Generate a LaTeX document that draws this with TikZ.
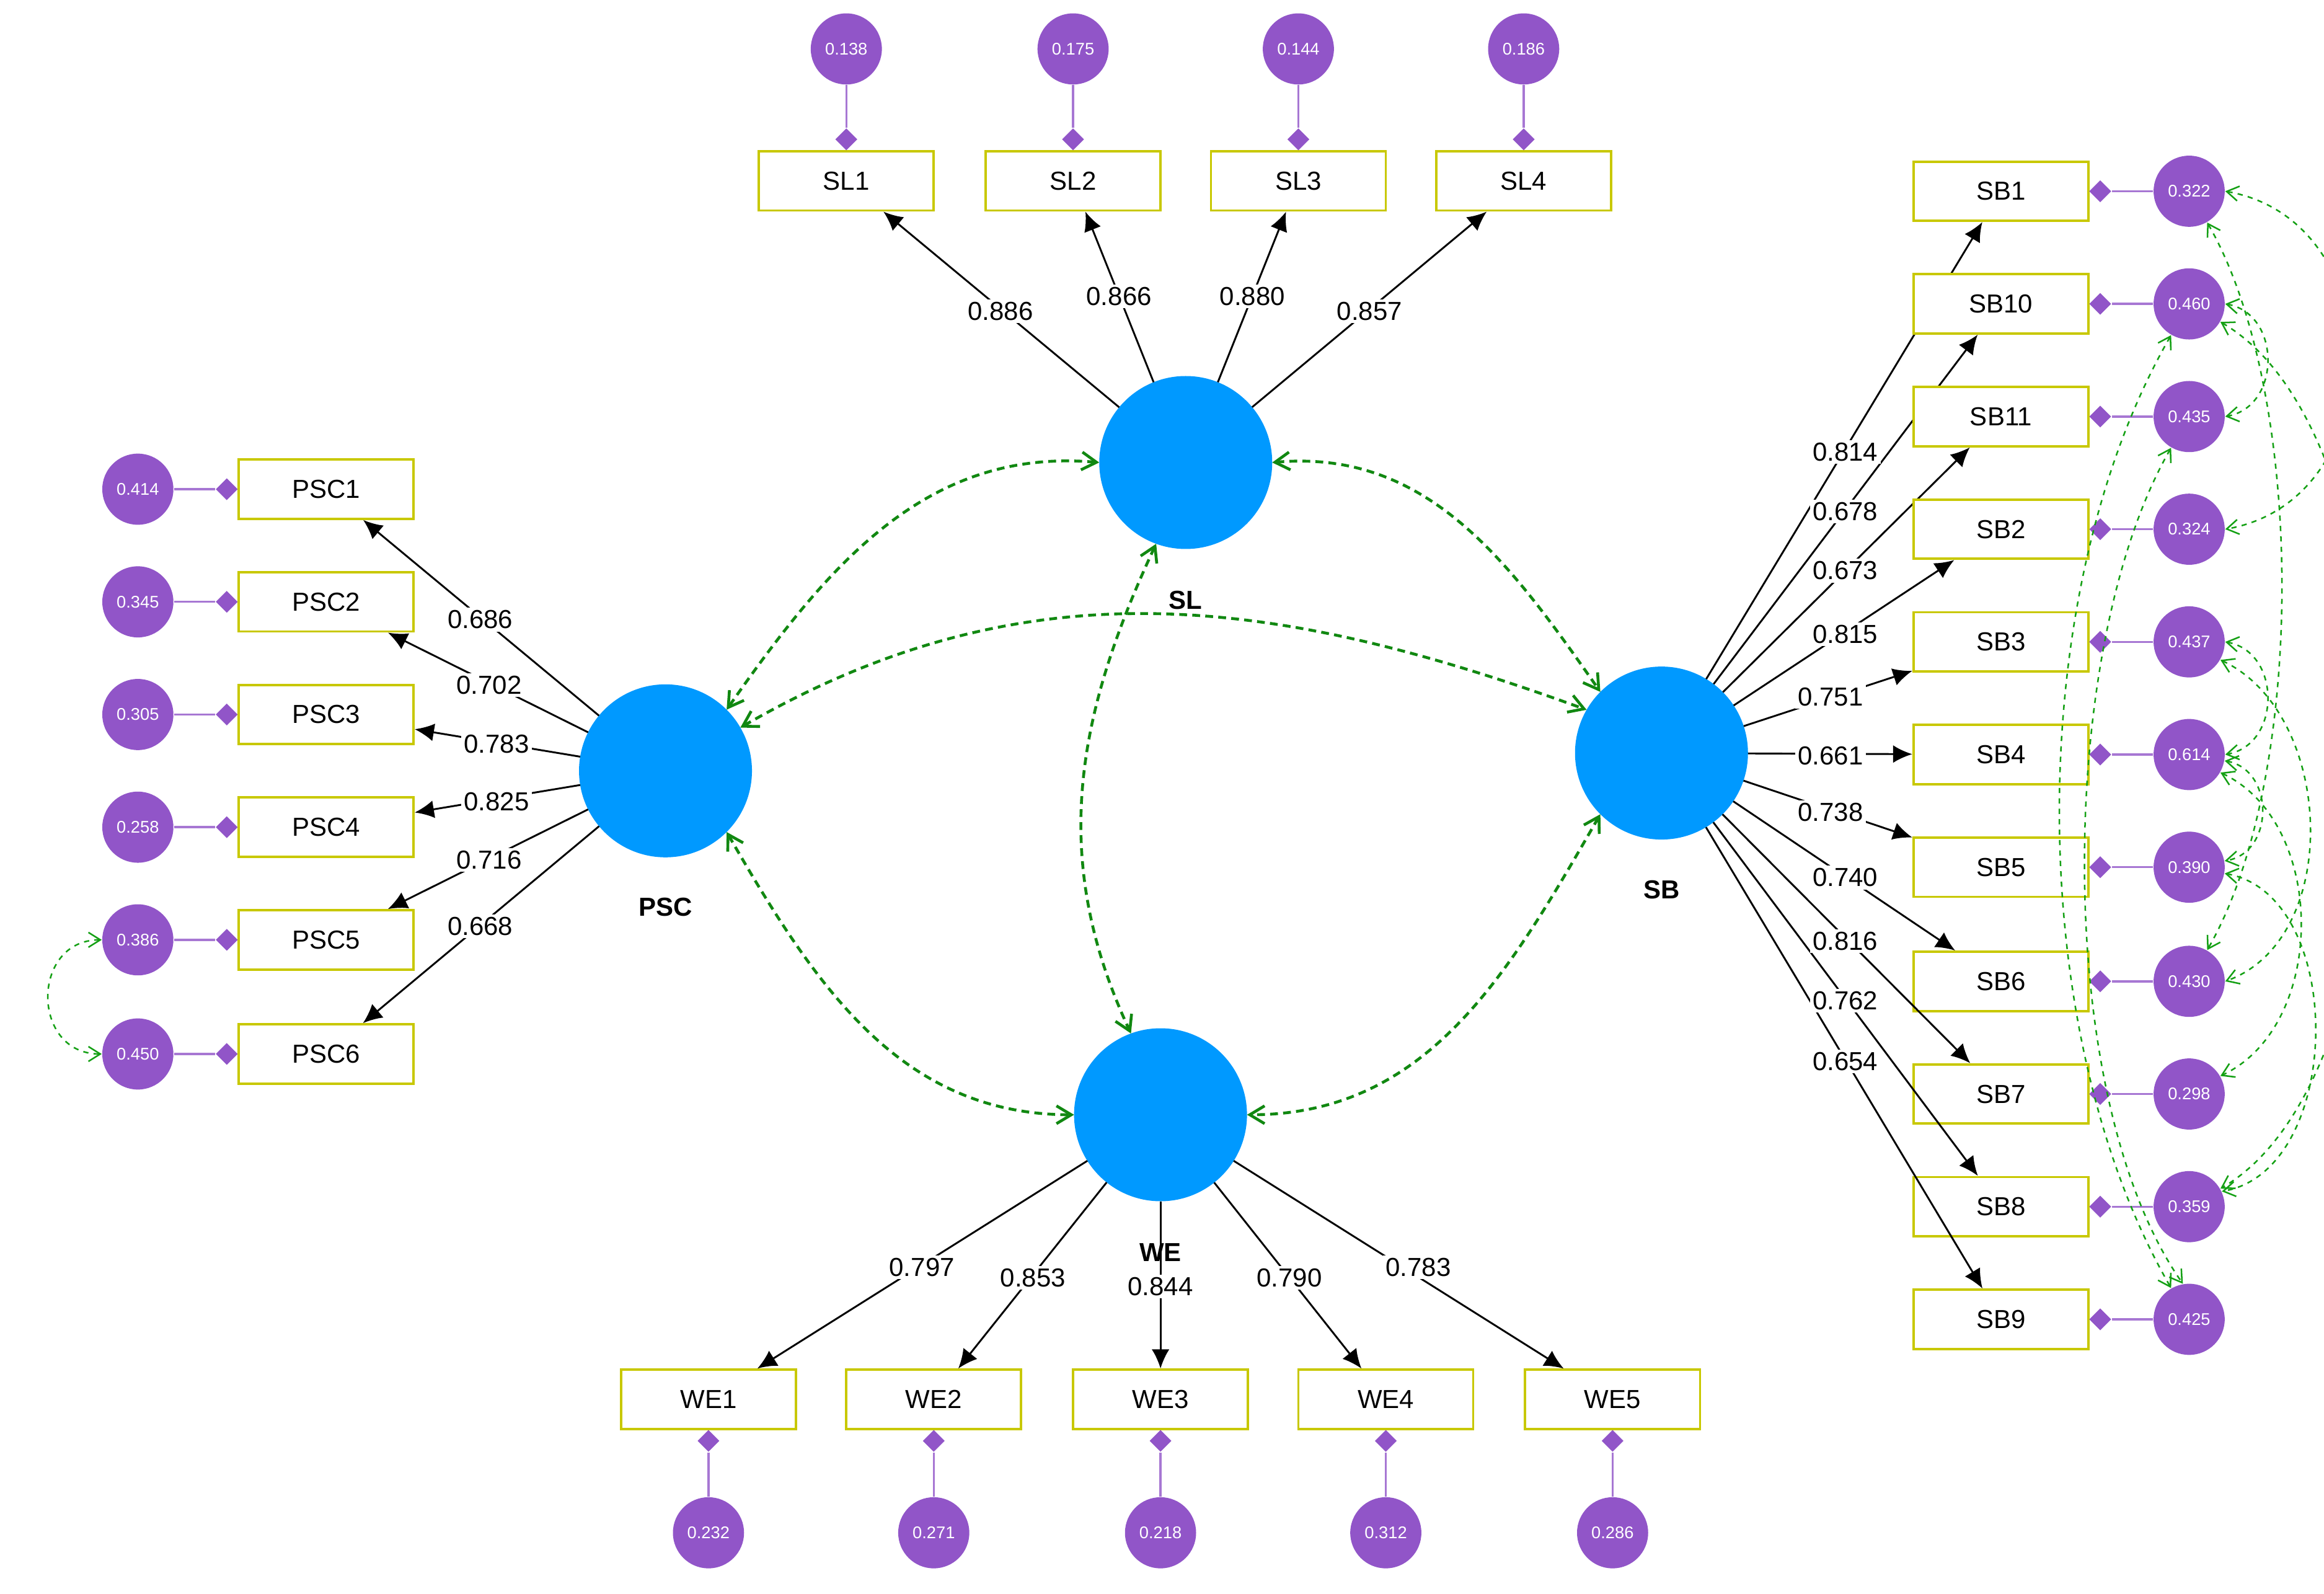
\documentclass[tikz,border=0pt]{standalone}
\usepackage{fontspec}
\setmainfont{Liberation Sans}
\usetikzlibrary{shapes.geometric,arrows.meta}
\definecolor{lat}{RGB}{0,153,255}
\definecolor{err}{RGB}{145,85,200}
\definecolor{box}{RGB}{200,200,0}
\definecolor{cov}{RGB}{20,160,20}
\begin{document}
\begin{tikzpicture}[x=0.02cm,y=-0.02cm,
 lv/.style={circle,fill=lat,draw=lat,minimum size=2.32cm,inner sep=0},
 lvl/.style={font=\fontsize{10}{12}\selectfont\bfseries},
 ind/.style={draw=box,line width=0.9pt,fill=white,minimum width=2.36cm,minimum height=0.8cm,inner sep=0,font=\fontsize{10}{12}\selectfont},
 er/.style={circle,fill=err,minimum size=0.96cm,inner sep=0,text=white,font=\fontsize{6.5}{8}\selectfont},
 dm/.style={diamond,fill=err,minimum size=0.3cm,inner sep=0},
 eline/.style={draw=err!80,line width=0.8pt},
 ld/.style={-{Latex[length=2.6mm,width=2.4mm]},line width=0.7pt},
 ll/.style={fill=white,inner sep=1pt,font=\fontsize{10}{12}\selectfont},
 cv/.style={{Straight Barb[length=2mm,width=2.4mm]}-{Straight Barb[length=2mm,width=2.4mm]},draw=cov!85!black,line width=1.1pt,dash pattern=on 3pt off 2pt},
 cs/.style={{Straight Barb[length=1.6mm,width=2mm]}-{Straight Barb[length=1.6mm,width=2mm]},draw=cov,line width=0.6pt,dash pattern=on 2pt off 2pt}]
\useasboundingbox (0,0) rectangle (1568,1075);
% latent
\node[lv] (SL) at (800,312) {};
\node[lv] (PSC) at (449,520) {};
\node[lv] (SB) at (1121,508) {};
\node[lv] (WE) at (783,752) {};
\node[lvl] (tSL) at (800,405) {SL};
\node[lvl] (tPSC) at (449,612) {PSC};
\node[lvl] (tSB) at (1121,600) {SB};
\node[lvl] (tWE) at (783,845) {WE};
% SL
\foreach \i/\x/\v/\l/\lx/\ly in {1/571/0.138/0.886/675/210,2/724/0.175/0.866/755/200,3/876/0.144/0.880/845/200,4/1028/0.186/0.857/924/210}{
 \node[ind] (SL\i) at (\x,122) {SL\i};
 \node[er] (eSL\i) at (\x,33) {\v};
 \node[dm] (dSL\i) at (\x,94) {};
 \draw[eline] (eSL\i) -- (dSL\i);
 \draw[ld] (SL) -- (SL\i);
 \node[ll] (lSL\i) at (\lx,\ly) {\l};
}
% PSC
\foreach \i/\y/\v/\l/\lx/\ly in {1/330/0.414/0.686/324/418,2/406/0.345/0.702/330/462,3/482/0.305/0.783/335/502,4/558/0.258/0.825/335/541,5/634/0.386/0.716/330/580,6/711/0.450/0.668/324/625}{
 \node[ind] (PSC\i) at (220,\y) {PSC\i};
 \node[er] (ePSC\i) at (93,\y) {\v};
 \node[dm] (dPSC\i) at (153,\y) {};
 \draw[eline] (ePSC\i) -- (dPSC\i);
 \draw[ld] (PSC) -- (PSC\i);
 \node[ll] (lPSC\i) at (\lx,\ly) {\l};
}
% SB
\foreach \n/\y/\v/\l/\lx/\ly in {1/129/0.322/0.814/1245/305,10/205/0.460/0.678/1245/345,11/281/0.435/0.673/1245/385,2/357/0.324/0.815/1245/428,3/433/0.437/0.751/1235/470,4/509/0.614/0.661/1235/510,5/585/0.390/0.738/1235/548,6/662/0.430/0.740/1245/592,7/738/0.298/0.816/1245/635,8/814/0.359/0.762/1245/675,9/890/0.425/0.654/1245/716}{
 \node[ind] (SB\n) at (1350,\y) {SB\n};
 \node[er] (eSB\n) at (1477,\y) {\v};
 \node[dm] (dSB\n) at (1417,\y) {};
 \draw[eline] (eSB\n) -- (dSB\n);
 \draw[ld] (SB) -- (SB\n);
}
\foreach \n/\l/\lx/\ly in {1/0.814/1245/305,10/0.678/1245/345,11/0.673/1245/385,2/0.815/1245/428,3/0.751/1235/470,4/0.661/1235/510,5/0.738/1235/548,6/0.740/1245/592,7/0.816/1245/635,8/0.762/1245/675,9/0.654/1245/716}{
 \node[ll] (lSB\n) at (\lx,\ly) {\l};
}
% WE
\foreach \i/\x/\v/\l/\lx/\ly in {1/478/0.232/0.797/622/855,2/630/0.271/0.853/697/862,3/783/0.218/0.844/783/868,4/935/0.312/0.790/870/862,5/1088/0.286/0.783/957/855}{
 \node[ind] (WE\i) at (\x,944) {WE\i};
 \node[er] (eWE\i) at (\x,1034) {\v};
 \node[dm] (dWE\i) at (\x,972) {};
 \draw[eline] (eWE\i) -- (dWE\i);
 \draw[ld] (WE) -- (WE\i);
 \node[ll] (lWE\i) at (\lx,\ly) {\l};
}
% latent covariances
\draw[cv] (SL.west) to[out=175,in=55] (PSC.north east);
\draw[cv] (SL.east) to[out=5,in=125] (SB.north west);
\draw[cv] (PSC.30) to[out=30,in=160] (SB.150);
\draw[cv] (SL.250) to[out=245,in=115] (WE.110);
\draw[cv] (PSC.south east) to[out=-60,in=180] (WE.west);
\draw[cv] (SB.south west) to[out=-120,in=0] (WE.east);
% error covariances
\draw[cs] (ePSC5.west) to[out=180,in=180,looseness=1.6] (ePSC6.west);
\draw[cs] (eSB1.east) to[out=-10,in=10,looseness=1.3] (eSB2.east);
\draw[cs] (eSB10.east) to[out=-10,in=10,looseness=1.3] (eSB11.east);
\draw[cs] (eSB1.-60) to[out=-60,in=60,looseness=0.7] (eSB6.60);
\draw[cs] (eSB10.-30) to[out=-30,in=30,looseness=0.7] (eSB8.30);
\draw[cs] (eSB3.east) to[out=-10,in=10,looseness=1.3] (eSB4.east);
\draw[cs] (eSB3.-30) to[out=-25,in=20,looseness=1] (eSB6.east);
\draw[cs] (eSB4.-10) to[out=-10,in=10,looseness=1.3] (eSB5.10);
\draw[cs] (eSB4.-30) to[out=-25,in=25,looseness=1] (eSB7.30);
\draw[cs] (eSB5.-10) to[out=-10,in=10,looseness=1] (eSB8.25);
\draw[cs] (eSB10.240) to[out=240,in=120,looseness=0.8] (eSB9.120);
\draw[cs] (eSB11.240) to[out=240,in=125,looseness=0.7] (eSB9.100);
\end{tikzpicture}
\end{document}
